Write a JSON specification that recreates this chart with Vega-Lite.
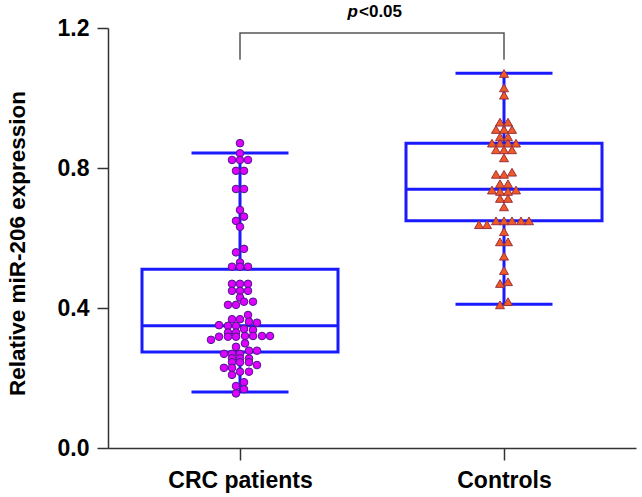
{
  "$schema": "https://vega.github.io/schema/vega-lite/v6.json",
  "width": 528,
  "height": 420,
  "autosize": {"type": "none"},
  "padding": {"left": 108, "top": 28, "right": 6, "bottom": 49},
  "background": "white",
  "config": {
    "view": {"stroke": null},
    "axis": {
      "domainColor": "#333333", "domainWidth": 1.5, "tickColor": "#333333", "tickWidth": 1.5,
      "labelFont": "Liberation Sans", "labelFontWeight": "bold", "labelFontSize": 23, "labelColor": "#000000",
      "titleFont": "Liberation Sans", "titleFontWeight": "bold", "titleFontSize": 22.5, "titleColor": "#000000",
      "grid": false
    }
  },
  "datasets": {
    "stats": [
      {"group": "CRC patients", "lo": 0.16, "q1": 0.274, "med": 0.349, "q3": 0.511, "hi": 0.843},
      {"group": "Controls", "lo": 0.411, "q1": 0.649, "med": 0.739, "q3": 0.871, "hi": 1.071}
    ],
    "bracket": [
      {"group": "CRC patients", "v": 1.109, "i": 1},
      {"group": "CRC patients", "v": 1.186, "i": 2},
      {"group": "Controls", "v": 1.186, "i": 3},
      {"group": "Controls", "v": 1.109, "i": 4}
    ],
    "pts": [
      {"group": "CRC patients", "v": 0.871, "j": 0},
      {"group": "CRC patients", "v": 0.842, "j": 0},
      {"group": "CRC patients", "v": 0.823, "j": -8},
      {"group": "CRC patients", "v": 0.823, "j": 0},
      {"group": "CRC patients", "v": 0.823, "j": 8},
      {"group": "CRC patients", "v": 0.792, "j": -4},
      {"group": "CRC patients", "v": 0.792, "j": 4},
      {"group": "CRC patients", "v": 0.74, "j": -4},
      {"group": "CRC patients", "v": 0.74, "j": 4},
      {"group": "CRC patients", "v": 0.68, "j": 0},
      {"group": "CRC patients", "v": 0.661, "j": 4},
      {"group": "CRC patients", "v": 0.649, "j": -4},
      {"group": "CRC patients", "v": 0.632, "j": 0},
      {"group": "CRC patients", "v": 0.569, "j": 4},
      {"group": "CRC patients", "v": 0.559, "j": -4},
      {"group": "CRC patients", "v": 0.53, "j": 0},
      {"group": "CRC patients", "v": 0.518, "j": -8},
      {"group": "CRC patients", "v": 0.518, "j": 0},
      {"group": "CRC patients", "v": 0.518, "j": 8},
      {"group": "CRC patients", "v": 0.469, "j": -8},
      {"group": "CRC patients", "v": 0.469, "j": 0},
      {"group": "CRC patients", "v": 0.469, "j": 8},
      {"group": "CRC patients", "v": 0.449, "j": -8},
      {"group": "CRC patients", "v": 0.449, "j": 0},
      {"group": "CRC patients", "v": 0.449, "j": 8},
      {"group": "CRC patients", "v": 0.43, "j": 0},
      {"group": "CRC patients", "v": 0.418, "j": 4},
      {"group": "CRC patients", "v": 0.418, "j": 13},
      {"group": "CRC patients", "v": 0.409, "j": -12},
      {"group": "CRC patients", "v": 0.409, "j": -4},
      {"group": "CRC patients", "v": 0.38, "j": 8},
      {"group": "CRC patients", "v": 0.368, "j": -8},
      {"group": "CRC patients", "v": 0.368, "j": 0},
      {"group": "CRC patients", "v": 0.361, "j": 9},
      {"group": "CRC patients", "v": 0.358, "j": 17},
      {"group": "CRC patients", "v": 0.351, "j": -21},
      {"group": "CRC patients", "v": 0.349, "j": -12},
      {"group": "CRC patients", "v": 0.349, "j": -4},
      {"group": "CRC patients", "v": 0.34, "j": 4},
      {"group": "CRC patients", "v": 0.337, "j": 13},
      {"group": "CRC patients", "v": 0.33, "j": -12},
      {"group": "CRC patients", "v": 0.33, "j": -4},
      {"group": "CRC patients", "v": 0.32, "j": 5},
      {"group": "CRC patients", "v": 0.32, "j": 13},
      {"group": "CRC patients", "v": 0.32, "j": 22},
      {"group": "CRC patients", "v": 0.32, "j": 30},
      {"group": "CRC patients", "v": 0.318, "j": -21},
      {"group": "CRC patients", "v": 0.318, "j": -12},
      {"group": "CRC patients", "v": 0.318, "j": -4},
      {"group": "CRC patients", "v": 0.309, "j": -29},
      {"group": "CRC patients", "v": 0.299, "j": 5},
      {"group": "CRC patients", "v": 0.289, "j": -4},
      {"group": "CRC patients", "v": 0.278, "j": 9},
      {"group": "CRC patients", "v": 0.278, "j": 17},
      {"group": "CRC patients", "v": 0.269, "j": -16},
      {"group": "CRC patients", "v": 0.269, "j": -8},
      {"group": "CRC patients", "v": 0.269, "j": 0},
      {"group": "CRC patients", "v": 0.256, "j": -8},
      {"group": "CRC patients", "v": 0.256, "j": 0},
      {"group": "CRC patients", "v": 0.256, "j": 9},
      {"group": "CRC patients", "v": 0.245, "j": -8},
      {"group": "CRC patients", "v": 0.245, "j": 0},
      {"group": "CRC patients", "v": 0.245, "j": 9},
      {"group": "CRC patients", "v": 0.237, "j": 17},
      {"group": "CRC patients", "v": 0.229, "j": -16},
      {"group": "CRC patients", "v": 0.229, "j": -8},
      {"group": "CRC patients", "v": 0.218, "j": 0},
      {"group": "CRC patients", "v": 0.218, "j": 9},
      {"group": "CRC patients", "v": 0.209, "j": -8},
      {"group": "CRC patients", "v": 0.188, "j": 4},
      {"group": "CRC patients", "v": 0.177, "j": -4},
      {"group": "CRC patients", "v": 0.168, "j": 4},
      {"group": "CRC patients", "v": 0.156, "j": -4},
      {"group": "Controls", "v": 1.07, "j": 0},
      {"group": "Controls", "v": 1.029, "j": 0},
      {"group": "Controls", "v": 1.008, "j": 0},
      {"group": "Controls", "v": 0.931, "j": -4},
      {"group": "Controls", "v": 0.931, "j": 4},
      {"group": "Controls", "v": 0.91, "j": -8},
      {"group": "Controls", "v": 0.91, "j": 0},
      {"group": "Controls", "v": 0.91, "j": 8},
      {"group": "Controls", "v": 0.889, "j": -4},
      {"group": "Controls", "v": 0.889, "j": 4},
      {"group": "Controls", "v": 0.871, "j": -12},
      {"group": "Controls", "v": 0.871, "j": -4},
      {"group": "Controls", "v": 0.871, "j": 4},
      {"group": "Controls", "v": 0.871, "j": 12},
      {"group": "Controls", "v": 0.852, "j": -8},
      {"group": "Controls", "v": 0.852, "j": 0},
      {"group": "Controls", "v": 0.852, "j": 8},
      {"group": "Controls", "v": 0.829, "j": 0},
      {"group": "Controls", "v": 0.788, "j": 8},
      {"group": "Controls", "v": 0.782, "j": -8},
      {"group": "Controls", "v": 0.782, "j": 0},
      {"group": "Controls", "v": 0.755, "j": -4},
      {"group": "Controls", "v": 0.755, "j": 4},
      {"group": "Controls", "v": 0.737, "j": -12},
      {"group": "Controls", "v": 0.737, "j": 12},
      {"group": "Controls", "v": 0.733, "j": -4},
      {"group": "Controls", "v": 0.733, "j": 4},
      {"group": "Controls", "v": 0.713, "j": -4},
      {"group": "Controls", "v": 0.713, "j": 4},
      {"group": "Controls", "v": 0.689, "j": 0},
      {"group": "Controls", "v": 0.649, "j": -8},
      {"group": "Controls", "v": 0.649, "j": 0},
      {"group": "Controls", "v": 0.649, "j": 8},
      {"group": "Controls", "v": 0.649, "j": 17},
      {"group": "Controls", "v": 0.649, "j": 25},
      {"group": "Controls", "v": 0.638, "j": -25},
      {"group": "Controls", "v": 0.638, "j": -17},
      {"group": "Controls", "v": 0.618, "j": 0},
      {"group": "Controls", "v": 0.589, "j": -4},
      {"group": "Controls", "v": 0.589, "j": 4},
      {"group": "Controls", "v": 0.548, "j": 0},
      {"group": "Controls", "v": 0.507, "j": 0},
      {"group": "Controls", "v": 0.475, "j": 4},
      {"group": "Controls", "v": 0.47, "j": -4},
      {"group": "Controls", "v": 0.418, "j": 4},
      {"group": "Controls", "v": 0.409, "j": -4}
    ],
    "ann": [
      {"group": "CRC patients", "v": 1.246}
    ]
  },
  "encoding": {
    "x": {
      "field": "group", "type": "nominal", "sort": ["CRC patients", "Controls"],
      "scale": {"type": "point", "padding": 0.5, "domain": ["CRC patients", "Controls"]},
      "axis": {"title": null, "labelAngle": 0, "tickSize": 12, "labelPadding": 9}
    }
  },
  "layer": [
    {
      "data": {"name": "stats"},
      "mark": {"type": "rule", "color": "#1a1aff", "strokeWidth": 3},
      "encoding": {
        "y": {"field": "q3", "type": "quantitative", "scale": {"domain": [0, 1.2], "nice": false},
          "axis": {"title": "Relative miR-206 expression", "values": [0, 0.4, 0.8, 1.2], "format": ".1f",
            "tickSize": 11, "labelPadding": 8, "titleX": -91, "titleY": 215, "titleAngle": -90, "titleAlign": "center", "titleBaseline": "middle"}},
        "y2": {"field": "hi"}
      }
    },
    {
      "data": {"name": "stats"},
      "mark": {"type": "rule", "color": "#1a1aff", "strokeWidth": 3},
      "encoding": {
        "y": {"field": "lo", "type": "quantitative"},
        "y2": {"field": "q1"}
      }
    },
    {
      "data": {"name": "stats"},
      "mark": {"type": "bar", "size": 196, "fill": null, "fillOpacity": 0, "stroke": "#1a1aff", "strokeWidth": 3},
      "encoding": {
        "y": {"field": "q1", "type": "quantitative"},
        "y2": {"field": "q3"}
      }
    },
    {
      "data": {"name": "stats"},
      "mark": {"type": "tick", "size": 196, "thickness": 3, "color": "#1a1aff", "opacity": 1, "orient": "horizontal"},
      "encoding": {"y": {"field": "med", "type": "quantitative"}}
    },
    {
      "data": {"name": "stats"},
      "mark": {"type": "tick", "size": 97, "thickness": 3, "color": "#1a1aff", "opacity": 1, "orient": "horizontal"},
      "encoding": {"y": {"field": "hi", "type": "quantitative"}}
    },
    {
      "data": {"name": "stats"},
      "mark": {"type": "tick", "size": 97, "thickness": 3, "color": "#1a1aff", "opacity": 1, "orient": "horizontal"},
      "encoding": {"y": {"field": "lo", "type": "quantitative"}}
    },
    {
      "data": {"name": "pts"},
      "mark": {"type": "point", "filled": true, "opacity": 1, "strokeWidth": 1},
      "encoding": {
        "y": {"field": "v", "type": "quantitative"},
        "xOffset": {"field": "j", "type": "quantitative", "scale": {"domain": [-30, 30], "range": [-30, 30]}},
        "shape": {"field": "group", "type": "nominal", "scale": {"domain": ["CRC patients", "Controls"], "range": ["circle", "triangle-up"]}, "legend": null},
        "size": {"field": "group", "type": "nominal", "scale": {"domain": ["CRC patients", "Controls"], "range": [58, 80]}, "legend": null},
        "fill": {"field": "group", "type": "nominal", "scale": {"domain": ["CRC patients", "Controls"], "range": ["#e000ff", "#f05a24"]}, "legend": null},
        "stroke": {"field": "group", "type": "nominal", "scale": {"domain": ["CRC patients", "Controls"], "range": ["#4a1a8a", "#9a3040"]}, "legend": null}
      }
    },
    {
      "data": {"name": "bracket"},
      "mark": {"type": "line", "color": "#555555", "strokeWidth": 1.5},
      "encoding": {
        "y": {"field": "v", "type": "quantitative"},
        "order": {"field": "i", "type": "quantitative"}
      }
    },
    {
      "data": {"name": "ann"},
      "mark": {"type": "text", "text": "p", "font": "Liberation Sans", "fontWeight": "bold", "fontStyle": "italic", "fontSize": 17, "align": "right", "baseline": "middle", "dx": 118, "color": "#000000"},
      "encoding": {"y": {"field": "v", "type": "quantitative"}}
    },
    {
      "data": {"name": "ann"},
      "mark": {"type": "text", "text": "<0.05", "font": "Liberation Sans", "fontWeight": "bold", "fontSize": 17, "align": "left", "baseline": "middle", "dx": 119, "color": "#000000"},
      "encoding": {"y": {"field": "v", "type": "quantitative"}}
    }
  ]
}
